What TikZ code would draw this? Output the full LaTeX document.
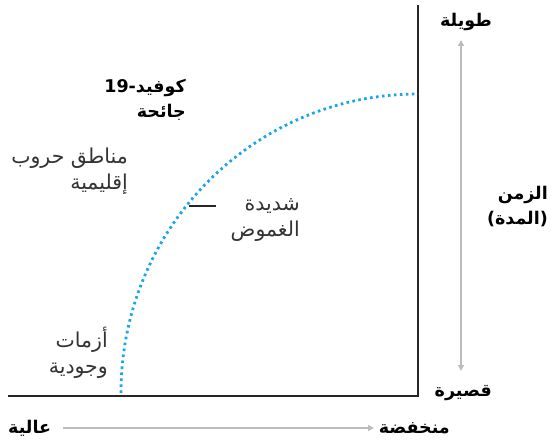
\documentclass[tikz,border=0pt]{standalone}
\usepackage{fontspec}
\TeXXeTstate=1
\newfontfamily\arfont[Script=Arabic]{DejaVu Sans}
\usetikzlibrary{arrows.meta}
\definecolor{curveblue}{HTML}{1AA5EC}
\definecolor{arrowgray}{HTML}{BDBDBD}
\definecolor{txtgray}{HTML}{333333}
\tikzset{
  axisline/.style={line width=1.8pt, draw=black!85},
  garrow/.style={line width=1.8pt, draw=arrowgray, -{Triangle[length=6pt,width=6pt]}, color=arrowgray},
  boldlbl/.style={font=\arfont\bfseries\fontsize{17.5}{25}\selectfont, text=black, inner sep=0pt, align=right},
  reglbl/.style={font=\arfont\fontsize{20.5}{25.5}\selectfont, text=txtgray, inner sep=0pt, align=right},
  dotted curve/.style={curveblue, line width=2.8pt, line cap=butt, dash pattern=on 2.6pt off 3.4pt}
}
\begin{document}
\begin{tikzpicture}[x=1pt,y=1pt]
\useasboundingbox (0,0) rectangle (551,439);
% axes
\coordinate (O) at (418,43);
\coordinate (T) at (418,434);
\coordinate (L) at (8,43);
\draw[axisline] (T) -- (O) -- (L);
% curve
\draw[dotted curve] (121,46) arc[start angle=180, end angle=90, x radius=297pt, y radius=299pt];
% tick
\coordinate (t1) at (189,233);
\coordinate (t2) at (216,233);
\draw[line width=1.3pt, black!85] (t1) -- (t2);
% labels
\node[boldlbl, anchor=east] (long) at (492,417) {\beginR طويلة\endR};
\node[boldlbl, anchor=east] (short) at (492,46) {\beginR قصيرة\endR};
\node[boldlbl, anchor=east] (time) at (548,232) {\beginR الزمن\endR\\\beginR (المدة)\endR};
\node[boldlbl, anchor=east] (low) at (450,11) {\beginR منخفضة\endR};
\node[boldlbl, anchor=west] (high) at (8,11) {\beginR عالية\endR};
\node[boldlbl, anchor=east] (covid) at (186,339) {\beginR كوفيد-\beginL 19\endL\endR\\\beginR جائحة\endR};
\node[reglbl, anchor=east] (wars) at (128,268) {\beginR مناطق حروب\endR\\\beginR إقليمية\endR};
\node[reglbl, anchor=east] (unc) at (300,219) {\beginR شديدة\endR\\\beginR الغموض\endR};
\node[reglbl, anchor=east] (exist) at (108,86) {\beginR أزمات\endR\\\beginR وجودية\endR};
% gray arrows
\coordinate (vm) at (461,205);
\coordinate (vt) at (461,399);
\coordinate (vb) at (461,68);
\draw[garrow] (vm) -- (vt);
\draw[garrow] (vm) -- (vb);
\coordinate (hs) at (63,11);
\coordinate (he) at (374,11);
\draw[garrow] (hs) -- (he);
\end{tikzpicture}
\end{document}
